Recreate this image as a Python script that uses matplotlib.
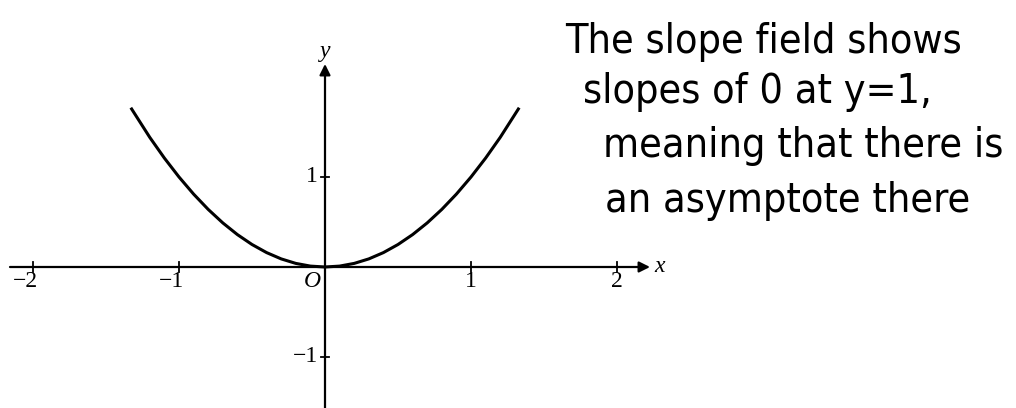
import matplotlib
matplotlib.use("Agg")
import matplotlib.pyplot as plt

# Solution curve sampled along x
curve_x = [-1.33, -1.2, -1.1, -1.0, -0.9, -0.8, -0.7, -0.6, -0.5, -0.4, -0.3,
           -0.2, -0.1, 0.0, 0.1, 0.2, 0.3, 0.4, 0.5, 0.6, 0.7, 0.8, 0.9, 1.0,
           1.1, 1.2, 1.33]
curve_y = [1.77, 1.44, 1.21, 1.00, 0.81, 0.64, 0.49, 0.36, 0.25, 0.16, 0.09,
           0.04, 0.01, 0.0, 0.01, 0.04, 0.09, 0.16, 0.25, 0.36, 0.49, 0.64,
           0.81, 1.00, 1.21, 1.44, 1.77]

x_ticks = [-2, -1, 1, 2]
x_tick_labels = ["\u22122", "\u22121", "1", "2"]
y_ticks = [-1, 1]
y_tick_labels = ["\u22121", "1"]

note_lines = [
    "The slope field shows",
    "slopes of 0 at y=1,",
    "meaning that there is",
    "an asymptote there",
]

W, H = 1016, 408
fig = plt.figure(figsize=(W / 100, H / 100), dpi=100)
fig.patch.set_facecolor("white")
ax = fig.add_axes([0, 0, 1, 1])

# pixel geometry of the coordinate plane
ox, oy = 325, 267          # origin in pixels
ux, uy = 146, 90           # pixels per unit
ax.set_xlim(-ox / ux, (W - ox) / ux)
ax.set_ylim(-(H - oy) / uy, oy / uy)
ax.axis("off")

def px_x(p):
    return (p - ox) / ux

def px_y(p):
    return (oy - p) / uy

axis_lw = 1.6
serif = ["Liberation Serif", "DejaVu Serif"]
lab_fs = 17

# x axis with arrow
ax.annotate("", xy=(px_x(650), 0), xytext=(px_x(10), 0),
            arrowprops=dict(arrowstyle="-|>", lw=axis_lw, color="black",
                            mutation_scale=16, shrinkA=0, shrinkB=0))
# y axis with arrow
ax.annotate("", xy=(0, px_y(64)), xytext=(0, px_y(H + 5)),
            arrowprops=dict(arrowstyle="-|>", lw=axis_lw, color="black",
                            mutation_scale=16, shrinkA=0, shrinkB=0))

# tick marks
tick_half_y = 5 / uy
tick_half_x = 4 / ux
for t in x_ticks:
    ax.plot([t, t], [-tick_half_y, tick_half_y], color="black", lw=1.3)
for t in y_ticks:
    ax.plot([-tick_half_x, tick_half_x], [t, t], color="black", lw=1.3)

# tick labels
for t, lab in zip(x_ticks, x_tick_labels):
    if lab.startswith("\u2212"):
        ax.text(t + 5 / ux, px_y(271), lab, ha="right", va="top",
                fontsize=lab_fs, family=serif)
    else:
        ax.text(t, px_y(271), lab, ha="center", va="top",
                fontsize=lab_fs, family=serif)
for t, lab in zip(y_ticks, y_tick_labels):
    ax.text(px_x(318), t, lab, ha="right", va="center",
            fontsize=lab_fs, family=serif)

ax.text(px_x(312), px_y(271), "O", ha="center", va="top", fontsize=lab_fs,
        family=serif, style="italic")
ax.text(px_x(654), 0, "x", ha="left", va="center", fontsize=lab_fs,
        family=serif, style="italic")
ax.text(0, px_y(62), "y", ha="center", va="bottom", fontsize=lab_fs,
        family=serif, style="italic")

# solution curve
ax.plot(curve_x, curve_y, color="black", lw=2.2, solid_capstyle="butt")

# handwritten note: one common size, chosen from the written line widths
note_x = [565, 583, 603, 605]
note_end = [907, 965, 1003, 983]
note_base = [53, 103, 157, 212]
hand = ["DejaVu Sans"]
renderer = fig.canvas.get_renderer()
texts, sizes = [], []
for line, xp, xe, yb in zip(note_lines, note_x, note_end, note_base):
    txt = fig.text(xp / W, 1 - yb / H, line, ha="left", va="baseline",
                   fontsize=30, family=hand, fontstretch="condensed",
                   color="black")
    width = txt.get_window_extent(renderer).width
    texts.append(txt)
    sizes.append(30 * (xe - xp) / width)
common = sum(sizes) / len(sizes)
for txt in texts:
    txt.set_fontsize(common)

fig.savefig("out.png", dpi=100, facecolor="white")
